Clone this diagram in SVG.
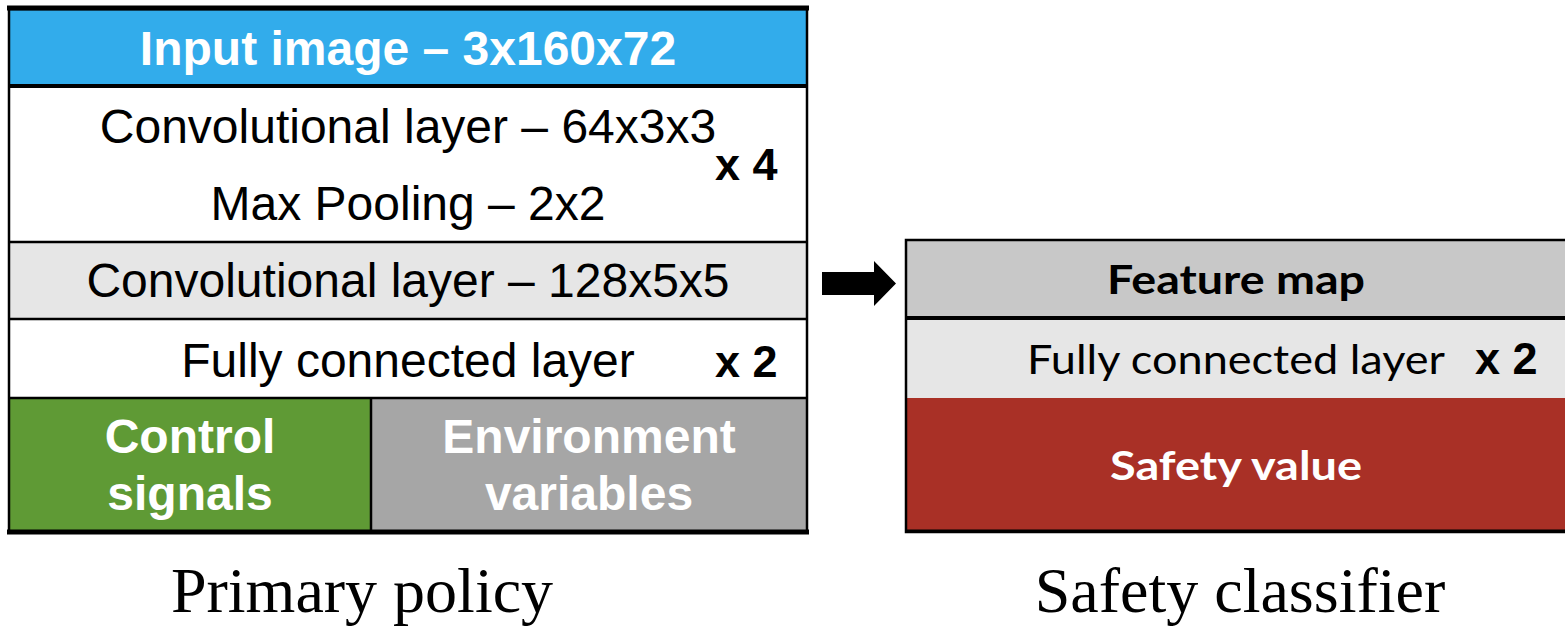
<svg xmlns="http://www.w3.org/2000/svg" width="1565" height="628" viewBox="0 0 1565 628">
  <style>
    .sans { font-family: "Liberation Sans", Arial, sans-serif; }
    .cal { font-family: "Lato", "Open Sans", sans-serif; }
    .serif { font-family: "Liberation Serif", "Times New Roman", serif; font-size: 64px; fill: #000; }
    .wb { fill: #fff; font-weight: bold; font-size: 48px; }
    .reg { fill: #000; font-size: 48px; }
    .mult { fill: #000; font-weight: bold; font-size: 45px; }
    .edge { stroke: #000; stroke-width: 2.5; }
  </style>

  <!-- Primary policy network stack -->
  <g id="input-image">
    <rect x="9" y="9" width="798" height="77" fill="#32ACEB"/>
    <text class="sans wb" x="408" y="65" text-anchor="middle">Input image – 3x160x72</text>
  </g>
  <g id="conv-block">
    <rect x="9" y="86" width="798" height="156" fill="#fff"/>
    <text class="sans reg" x="408" y="143" text-anchor="middle">Convolutional layer – 64x3x3</text>
    <text class="sans reg" x="408" y="220" text-anchor="middle">Max Pooling – 2x2</text>
    <text class="sans mult" x="715" y="180">x 4</text>
  </g>
  <g id="conv-large">
    <rect x="9" y="242" width="798" height="77" fill="#E6E6E6"/>
    <text class="sans reg" x="408" y="297" text-anchor="middle">Convolutional layer – 128x5x5</text>
  </g>
  <g id="fc-primary">
    <rect x="9" y="319" width="798" height="79" fill="#fff"/>
    <text class="sans reg" x="408" y="377" text-anchor="middle">Fully connected layer</text>
    <text class="sans mult" x="715" y="377">x 2</text>
  </g>
  <g id="control-signals">
    <rect x="9" y="398" width="362" height="134" fill="#5F9A35"/>
    <text class="sans wb" x="190" y="453" text-anchor="middle">Control</text>
    <text class="sans wb" x="190" y="510" text-anchor="middle">signals</text>
  </g>
  <g id="environment-variables">
    <rect x="371" y="398" width="436" height="134" fill="#A6A6A6"/>
    <text class="sans wb" x="589" y="453" text-anchor="middle">Environment</text>
    <text class="sans wb" x="589" y="510" text-anchor="middle">variables</text>
  </g>
  <g id="primary-frame" fill="none">
    <rect x="9" y="9" width="798" height="523" class="edge"/>
    <line x1="7" y1="8" x2="809" y2="8" stroke="#000" stroke-width="5"/>
    <line x1="7" y1="532" x2="809" y2="532" stroke="#000" stroke-width="5"/>
    <line x1="9" y1="86" x2="807" y2="86" stroke="#000" stroke-width="4"/>
    <line x1="9" y1="242" x2="807" y2="242" class="edge"/>
    <line x1="9" y1="319" x2="807" y2="319" class="edge"/>
    <line x1="9" y1="398" x2="807" y2="398" class="edge"/>
    <line x1="371" y1="398" x2="371" y2="532" class="edge"/>
  </g>

  <!-- Safety classifier stack -->
  <g id="feature-map">
    <rect x="906" y="240" width="662" height="78" fill="#C8C8C8"/>
    <text class="cal" x="1236" y="294" text-anchor="middle" font-size="40" font-weight="bold" fill="#000" textLength="258" lengthAdjust="spacingAndGlyphs">Feature map</text>
  </g>
  <g id="fc-safety">
    <rect x="906" y="318" width="662" height="80" fill="#E6E6E6"/>
    <text class="cal" x="1027" y="374" font-size="40" fill="#000" textLength="418" lengthAdjust="spacingAndGlyphs">Fully connected layer</text>
    <text class="sans mult" x="1475" y="374">x 2</text>
  </g>
  <g id="safety-value">
    <rect x="906" y="398" width="662" height="134" fill="#A93026"/>
    <text class="cal" x="1236" y="480" text-anchor="middle" font-size="40" font-weight="bold" fill="#fff" textLength="252" lengthAdjust="spacingAndGlyphs">Safety value</text>
  </g>
  <g id="safety-frame" fill="none">
    <rect x="906" y="240" width="662" height="292" class="edge"/>
    <line x1="906" y1="318" x2="1568" y2="318" stroke="#000" stroke-width="4"/>
    <line x1="905" y1="531" x2="1568" y2="531" stroke="#000" stroke-width="3"/>
  </g>

  <!-- Connector between the two networks -->
  <g id="connectors">
    <polygon points="822,272 874,272 874,261 896,283.5 874,306 874,295 822,295" fill="#000"/>
  </g>

  <!-- Captions -->
  <g id="captions">
    <text class="serif" x="362" y="612" text-anchor="middle">Primary policy</text>
    <text class="serif" x="1240" y="612" text-anchor="middle">Safety classifier</text>
  </g>
</svg>
